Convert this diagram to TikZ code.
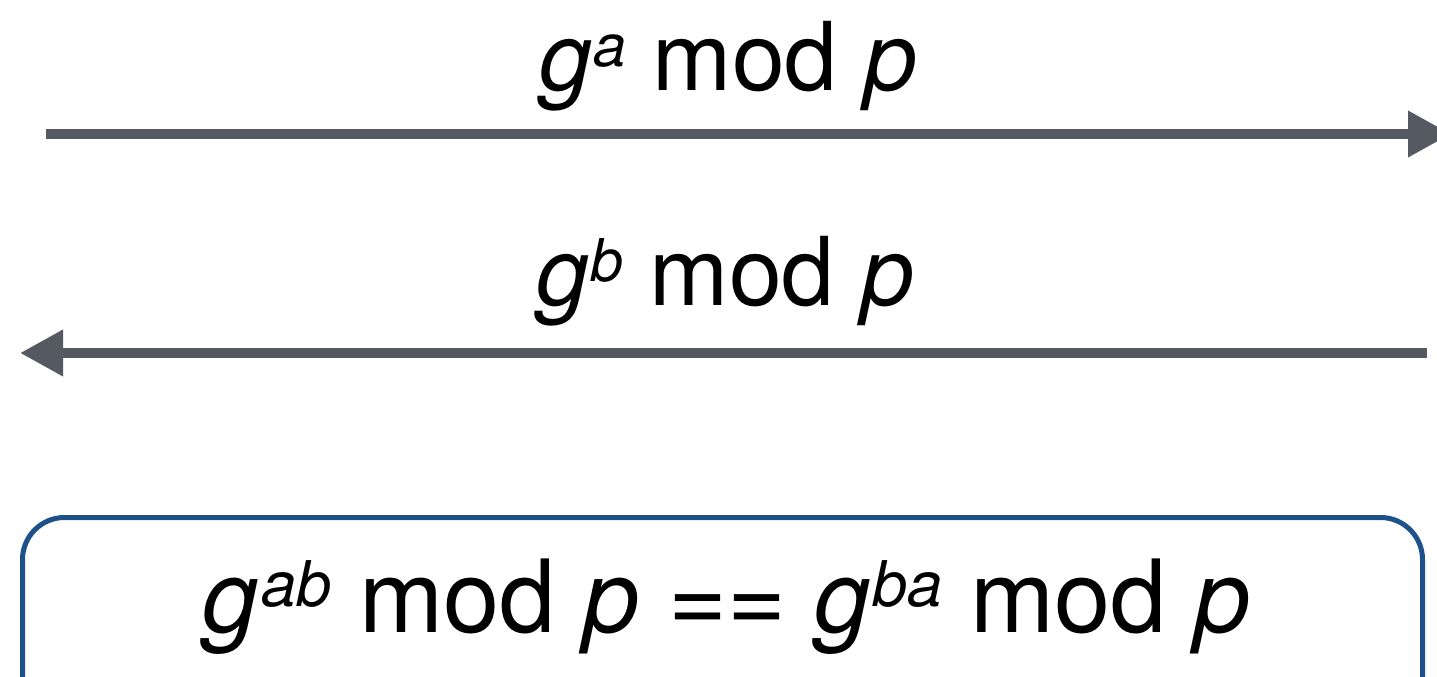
\documentclass[tikz,border=0pt]{standalone}
\usepackage{fontspec}
\setmainfont{TeX Gyre Heros}
\usetikzlibrary{arrows.meta}
\definecolor{arrowgray}{HTML}{555A62}
\definecolor{boxblue}{HTML}{1C5189}
\tikzset{
  msg/.style={line width=10pt, draw=arrowgray, -{Triangle[length=43pt,width=44pt]}},
  lbl/.style={anchor=base, inner sep=0pt, font=\fontsize{95}{112}\selectfont},
  eqlbl/.style={anchor=base, inner sep=0pt, font=\fontsize{101}{120}\selectfont},
  resbox/.style={draw=boxblue, line width=5pt, rounded corners=42pt, fill=none}
}
\newcommand{\gsup}[2][60]{\textit{g}\kern0.02em\raisebox{0.25em}{\fontsize{#1}{#1}\selectfont\textit{#2}}}
\begin{document}
\begin{tikzpicture}[x=1pt,y=-1pt]
\useasboundingbox (0,0) rectangle (1437,677);
% top message
\coordinate (a1) at (46,134);
\coordinate (a2) at (1451,134);
\draw[msg] (a1) -- (a2);
\node[lbl] (ta) at (728,90) {\gsup[59]{a} mod \textit{p}};
% bottom message
\coordinate (b1) at (1427,353);
\coordinate (b2) at (20,353);
\draw[msg] (b1) -- (b2);
\node[lbl] (tb) at (725,305) {\gsup[59]{b} mod \textit{p}};
% result box
\draw[resbox] (22.5,517.5) rectangle (1422.5,760);
\node[eqlbl] (eq) at (727,632) {\gsup[63]{ab} mod \textit{p} == \gsup[63]{ba} mod \textit{p}};
\end{tikzpicture}
\end{document}
